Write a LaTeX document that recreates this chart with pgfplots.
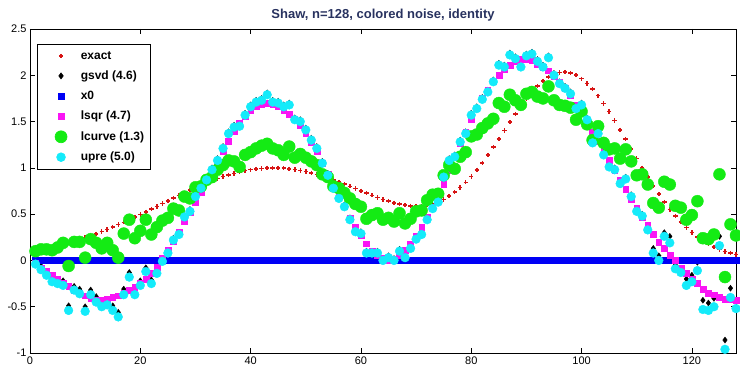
\documentclass[border=0pt]{standalone}
\usepackage{fontspec}
\setmainfont{Liberation Sans}
\usepackage{pgfplots}
\usepackage{pgfplotstable}
\pgfplotsset{compat=1.18}
\definecolor{exactred}{RGB}{215,20,20}
\definecolor{lsqrmag}{RGB}{250,20,245}
\definecolor{lcgreen}{RGB}{20,235,20}
\definecolor{uprecyan}{RGB}{20,235,250}
\definecolor{xzeroblue}{RGB}{0,0,245}
\definecolor{titlecol}{RGB}{40,50,95}
\pgfplotsset{mymarks/.style={only marks,
  legend image code/.code={%
    \path (0pt,0pt) (36pt,0pt);
    \draw[mark repeat=2, mark phase=2, ##1]
      plot coordinates {(0pt,0pt) (19pt,0pt) (38pt,0pt)};}}}

\pgfplotstableread{
i exact gsvd lsqr lcurve upre xzero
1 0.106 0.00 -0.03 0.10 -0.04 0
2 0.118 -0.06 -0.08 0.12 -0.10 0
3 0.130 -0.12 -0.12 0.12 -0.16 0
4 0.144 -0.19 -0.16 0.11 -0.23 0
5 0.158 -0.21 -0.20 0.14 -0.25 0
6 0.174 -0.22 -0.24 0.19 -0.27 0
7 0.190 -0.49 -0.28 -0.06 -0.54 0
8 0.208 -0.28 -0.32 0.20 -0.32 0
9 0.226 -0.31 -0.35 0.20 -0.36 0
10 0.246 -0.50 -0.38 0.03 -0.55 0
11 0.267 -0.32 -0.41 0.23 -0.37 0
12 0.288 -0.39 -0.43 0.19 -0.45 0
13 0.311 -0.46 -0.43 0.13 -0.50 0
14 0.335 -0.44 -0.42 0.19 -0.48 0
15 0.360 -0.49 -0.40 0.11 -0.54 0
16 0.386 -0.56 -0.38 0.03 -0.61 0
17 0.412 -0.31 -0.35 0.29 -0.37 0
18 0.439 -0.13 -0.32 0.44 -0.18 0
19 0.467 -0.33 -0.29 0.24 -0.37 0
20 0.496 -0.22 -0.25 0.32 -0.27 0
21 0.525 -0.08 -0.20 0.44 -0.12 0
22 0.554 -0.21 -0.14 0.28 -0.25 0
23 0.584 -0.10 -0.07 0.36 -0.14 0
24 0.614 0.01 0.02 0.43 -0.01 0
25 0.644 0.10 0.11 0.46 0.08 0
26 0.673 0.24 0.21 0.56 0.22 0
27 0.702 0.30 0.31 0.54 0.28 0
28 0.731 0.49 0.42 0.69 0.47 0
29 0.759 0.55 0.52 0.67 0.53 0
30 0.786 0.71 0.63 0.79 0.69 0
31 0.813 0.80 0.74 0.80 0.78 0
32 0.838 0.89 0.85 0.87 0.87 0
33 0.861 1.00 0.96 0.90 0.98 0
34 0.884 1.10 1.07 0.98 1.08 0
35 0.905 1.23 1.18 1.03 1.21 0
36 0.924 1.39 1.29 1.08 1.37 0
37 0.941 1.46 1.39 1.07 1.44 0
38 0.956 1.47 1.48 1.01 1.45 0
39 0.969 1.59 1.56 1.14 1.57 0
40 0.980 1.68 1.62 1.17 1.66 0
41 0.988 1.73 1.67 1.21 1.71 0
42 0.995 1.75 1.69 1.24 1.73 0
43 0.999 1.81 1.70 1.26 1.79 0
44 1.000 1.73 1.69 1.21 1.71 0
45 0.999 1.72 1.67 1.19 1.70 0
46 0.996 1.68 1.62 1.14 1.66 0
47 0.990 1.70 1.58 1.23 1.68 0
48 0.982 1.54 1.53 1.11 1.52 0
49 0.972 1.52 1.46 1.15 1.50 0
50 0.959 1.43 1.37 1.11 1.41 0
51 0.945 1.32 1.28 1.07 1.30 0
52 0.928 1.23 1.18 1.03 1.21 0
53 0.911 1.07 1.05 0.93 1.05 0
54 0.891 0.94 0.93 0.90 0.92 0
55 0.871 0.80 0.81 0.80 0.78 0
56 0.848 0.69 0.69 0.78 0.67 0
57 0.825 0.60 0.58 0.73 0.58 0
58 0.801 0.46 0.46 0.67 0.44 0
59 0.777 0.33 0.36 0.61 0.31 0
60 0.752 0.31 0.27 0.58 0.29 0
61 0.728 0.10 0.18 0.45 0.08 0
62 0.704 0.10 0.10 0.49 0.08 0
63 0.681 0.10 0.05 0.51 0.08 0
64 0.660 0.02 0.02 0.44 0.00 0
65 0.640 0.05 0.00 0.46 0.03 0
66 0.623 0.02 0.01 0.42 0.00 0
67 0.608 0.12 0.05 0.51 0.10 0
68 0.597 0.05 0.11 0.40 0.03 0
69 0.590 0.15 0.18 0.45 0.13 0
70 0.587 0.25 0.26 0.53 0.23 0
71 0.590 0.30 0.36 0.54 0.28 0
72 0.598 0.46 0.47 0.65 0.44 0
73 0.612 0.58 0.58 0.71 0.56 0
74 0.632 0.65 0.70 0.72 0.63 0
75 0.660 0.92 0.82 0.92 0.90 0
76 0.694 1.10 0.97 1.03 1.08 0
77 0.737 1.14 1.12 0.99 1.12 0
78 0.786 1.30 1.26 1.12 1.28 0
79 0.844 1.39 1.39 1.17 1.37 0
80 0.908 1.59 1.52 1.34 1.57 0
81 0.978 1.66 1.64 1.36 1.64 0
82 1.055 1.76 1.75 1.43 1.74 0
83 1.137 1.84 1.84 1.48 1.82 0
84 1.223 1.95 1.93 1.53 1.93 0
85 1.312 2.13 2.00 1.70 2.11 0
86 1.403 2.11 2.06 1.66 2.09 0
87 1.493 2.24 2.11 1.79 2.22 0
88 1.582 2.20 2.15 1.73 2.18 0
89 1.667 2.11 2.17 1.68 2.09 0
90 1.747 2.23 2.17 1.80 2.21 0
91 1.819 2.25 2.16 1.82 2.23 0
92 1.884 2.17 2.12 1.77 2.15 0
93 1.939 2.11 2.09 1.75 2.09 0
94 1.982 2.21 2.05 1.88 2.19 0
95 2.013 2.02 1.99 1.73 2.00 0
96 2.031 1.93 1.93 1.68 1.91 0
97 2.035 1.88 1.86 1.67 1.86 0
98 2.024 1.82 1.78 1.65 1.80 0
99 2.001 1.66 1.68 1.52 1.64 0
100 1.963 1.70 1.59 1.61 1.68 0
101 1.913 1.54 1.49 1.47 1.52 0
102 1.851 1.29 1.39 1.30 1.27 0
103 1.779 1.39 1.29 1.45 1.37 0
104 1.697 1.16 1.18 1.27 1.14 0
105 1.607 1.03 1.08 1.20 1.01 0
106 1.512 1.00 0.97 1.21 0.98 0
107 1.411 0.85 0.87 1.10 0.83 0
108 1.309 0.90 0.77 1.20 0.88 0
109 1.205 0.71 0.66 1.07 0.69 0
110 1.101 0.55 0.57 0.92 0.53 0
111 0.999 0.50 0.47 0.93 0.48 0
112 0.900 0.35 0.38 0.82 0.33 0
113 0.805 0.13 0.28 0.62 0.08 0
114 0.715 0.05 0.20 0.57 0.00 0
115 0.630 0.30 0.13 0.85 0.26 0
116 0.551 0.26 0.06 0.82 0.19 0
117 0.479 -0.05 0.00 0.59 -0.09 0
118 0.414 -0.09 -0.08 0.57 -0.13 0
119 0.354 -0.20 -0.14 0.44 -0.27 0
120 0.301 -0.16 -0.20 0.49 -0.23 0
121 0.254 -0.02 -0.25 0.64 -0.11 0
122 0.213 -0.43 -0.31 0.24 -0.53 0
123 0.178 -0.46 -0.35 0.23 -0.54 0
124 0.146 -0.41 -0.37 0.28 -0.50 0
125 0.120 0.26 -0.40 0.93 0.16 0
126 0.098 -0.86 -0.42 -0.18 -0.96 0
127 0.079 -0.30 -0.42 0.39 -0.40 0
128 0.063 -0.43 -0.43 0.27 -0.52 0
}\shawdata

\begin{document}
\begin{tikzpicture}
\begin{axis}[
  name=ax,
  scale only axis,
  width=706pt, height=324pt,
  xmin=0, xmax=128, ymin=-1, ymax=2.5,
  xtick={0,20,40,60,80,100,120},
  ytick={-1,-0.5,0,0.5,1,1.5,2,2.5},
  yticklabels={-1,-0.5,0,0.5,1,1.5,2,2.5},
  tick align=inside,
  tick pos=both,
  major tick length=5pt,
  tick style={black, line width=0.5pt},
  axis line style={black, line width=0.6pt},
  ticklabel style={font=\fontsize{11}{13}\selectfont},
  /pgf/number format/assume math mode=true,
  title={Shaw, n=128, colored noise, identity},
  every axis title/.style={at={(0.5,1)}, anchor=base, yshift=10pt,
    font=\bfseries\fontsize{13}{15}\selectfont, text=titlecol},
  legend style={at={(0.0099,0.9537)}, anchor=north west, draw=black,
    line width=0.6pt, font=\bfseries\fontsize{12}{14}\selectfont,
    row sep=6.2pt, inner xsep=4pt, inner ysep=5pt},
  legend cell align=left,
]
\addplot[mymarks, mark=+, mark size=2.2pt, color=exactred, line width=1.5pt]
  table[x=i, y=exact] {\shawdata};
\addlegendentry{exact}
\addplot[mymarks, mark=diamond*, mark size=3pt, color=black]
  table[x=i, y=gsvd] {\shawdata};
\addlegendentry{gsvd (4.6)}
\addplot[mymarks, mark=square*, mark size=3pt, color=xzeroblue]
  table[x=i, y=xzero] {\shawdata};
\addlegendentry{x0}
\addplot[mymarks, mark=square*, mark size=2.9pt, color=lsqrmag]
  table[x=i, y=lsqr] {\shawdata};
\addlegendentry{lsqr (4.7)}
\addplot[mymarks, mark=*, mark size=6pt, color=lcgreen]
  table[x=i, y=lcurve] {\shawdata};
\addlegendentry{lcurve (1.3)}
\addplot[mymarks, mark=*, mark size=4.4pt, color=uprecyan]
  table[x=i, y=upre] {\shawdata};
\addlegendentry{upre (5.0)}
\end{axis}
\pgfresetboundingbox
\path ([shift={(-30pt,-16pt)}]ax.south west) rectangle ([shift={(4pt,29pt)}]ax.north east);
\end{tikzpicture}
\end{document}
